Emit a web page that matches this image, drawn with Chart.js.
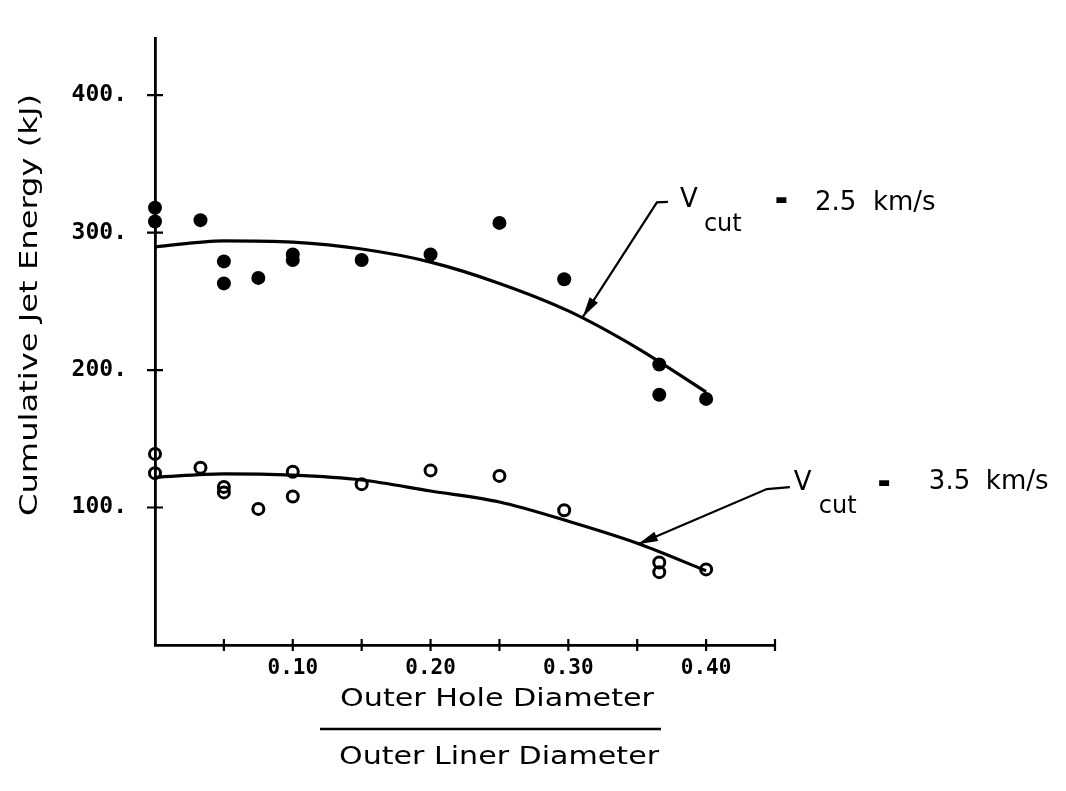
<!DOCTYPE html>
<html>
<head>
<meta charset="utf-8">
<script src="https://cdn.jsdelivr.net/npm/chart.js@4.4.1/dist/chart.umd.min.js"></script>
<style>
  html, body { margin: 0; padding: 0; background: #fff; }
  #wrap { width: 1066px; height: 791px; }
</style>
</head>
<body>
<div id="wrap"><canvas id="myChart" width="1066" height="791"></canvas></div>
<script>
// measured points, Vcut = 2.5 km/s (filled)
const hiX = [0, 0, 0.033, 0.05, 0.05, 0.075, 0.10, 0.10, 0.15, 0.20, 0.25, 0.297, 0.366, 0.366, 0.40];
const hiY = [318, 308, 309, 279, 263, 267, 284, 280, 280, 284, 307, 266, 204, 182, 179];
// measured points, Vcut = 3.5 km/s (open)
const loX = [0, 0, 0.033, 0.05, 0.05, 0.075, 0.10, 0.10, 0.15, 0.20, 0.25, 0.297, 0.366, 0.366, 0.40];
const loY = [139, 125, 129, 115, 111, 99, 126, 108, 117, 127, 123, 98, 60, 53, 55];
// fitted curves
const fitX = [0, 0.05, 0.10, 0.15, 0.20, 0.25, 0.30, 0.35, 0.40];
const fitHiY = [289.5, 294, 293, 288, 278.5, 263, 243, 216, 184];
const fitLoY = [122, 124.5, 123.5, 120, 112, 104, 90, 74, 54];

const xTickVals = [0.05, 0.10, 0.15, 0.20, 0.25, 0.30, 0.35, 0.40, 0.45];
const xTickLabels = ['', '0.10', '', '0.20', '', '0.30', '', '0.40', ''];
const yTickVals = [100, 200, 300, 400];
const yTickLabels = ['100.', '200.', '300.', '400.'];

const yTitle = 'Cumulative Jet Energy (kJ)';
const xTitleTop = 'Outer Hole Diameter';
const xTitleBottom = 'Outer Liner Diameter';

const ink = '#000';
const monoFam = '"DejaVu Sans Mono", monospace';

// leader notes: elbow/tip in data units, text pieces offset in px from the elbow
const notes = [
  {elbow: [0.3643, 322], tip: [0.3106, 238.7], tail: [11, -0.5],
   parts: [
     {t: 'V', dx: 23, dy: -2, size: 26},
     {t: 'cut', dx: 47, dy: 22, size: 24},
     {t: '-', dx: 119, dy: -1, size: 26, bold: true},
     {t: '2.5', dx: 158, dy: 1, size: 26},
     {t: 'km/s', dx: 216, dy: 1, size: 26}
   ]},
  {elbow: [0.4441, 113.4], tip: [0.3505, 73.3], tail: [23, -2],
   parts: [
     {t: 'V', dx: 27, dy: -6, size: 26},
     {t: 'cut', dx: 52, dy: 18, size: 24},
     {t: '-', dx: 112, dy: -5, size: 26, bold: true},
     {t: '3.5', dx: 162, dy: -7, size: 26},
     {t: 'km/s', dx: 219, dy: -7, size: 26}
   ]}
];

function toPts(xs, ys) {
  return xs.map((v, i) => ({x: v, y: ys[i]}));
}

// draw text stretched to a given width (plotter lettering is wide)
function wideText(ctx, str, cx, cy, width, size, angle) {
  ctx.save();
  ctx.font = size + 'px "DejaVu Sans", sans-serif';
  ctx.textAlign = 'center';
  ctx.textBaseline = 'middle';
  const w0 = ctx.measureText(str).width;
  ctx.translate(cx, cy);
  if (angle) ctx.rotate(angle);
  ctx.scale(width / w0, 1);
  ctx.fillText(str, 0, 0);
  ctx.restore();
}

const decor = {
  id: 'decor',
  afterDraw(chart) {
    const {ctx, chartArea: a} = chart;
    const x = chart.scales.x, y = chart.scales.y;
    ctx.save();
    ctx.strokeStyle = ink;
    ctx.fillStyle = ink;
    ctx.lineWidth = 2.2;

    // tick marks cross the axes
    ctx.beginPath();
    xTickVals.forEach(v => {
      const px = x.getPixelForValue(v);
      ctx.moveTo(px, a.bottom - 6);
      ctx.lineTo(px, a.bottom + 6);
    });
    yTickVals.forEach(v => {
      const py = y.getPixelForValue(v);
      ctx.moveTo(a.left - 8, py);
      ctx.lineTo(a.left + 8, py);
    });
    ctx.stroke();

    // axis titles
    wideText(ctx, yTitle, 30, 305, 422, 25, -Math.PI / 2);
    wideText(ctx, xTitleTop, 497, 699, 314, 25);
    ctx.lineWidth = 2.5;
    ctx.beginPath();
    ctx.moveTo(320, 729);
    ctx.lineTo(661, 729);
    ctx.stroke();
    wideText(ctx, xTitleBottom, 499, 757, 320, 25);

    // leader lines and labels
    notes.forEach(n => {
      const ex = x.getPixelForValue(n.elbow[0]), ey = y.getPixelForValue(n.elbow[1]);
      const tx = x.getPixelForValue(n.tip[0]), ty = y.getPixelForValue(n.tip[1]);
      ctx.lineWidth = 2.2;
      ctx.beginPath();
      ctx.moveTo(ex + n.tail[0], ey + n.tail[1]);
      ctx.lineTo(ex, ey);
      ctx.lineTo(tx, ty);
      ctx.stroke();
      const ang = Math.atan2(ty - ey, tx - ex);
      const L = 20, W = 5;
      const bx = tx - L * Math.cos(ang), by = ty - L * Math.sin(ang);
      ctx.beginPath();
      ctx.moveTo(tx, ty);
      ctx.lineTo(bx - W * Math.sin(ang), by + W * Math.cos(ang));
      ctx.lineTo(bx + W * Math.sin(ang), by - W * Math.cos(ang));
      ctx.closePath();
      ctx.fill();

      ctx.textAlign = 'left';
      ctx.textBaseline = 'middle';
      n.parts.forEach(p => {
        ctx.font = (p.bold ? 'bold ' : '') + p.size + 'px "DejaVu Sans", sans-serif';
        ctx.fillText(p.t, ex + p.dx, ey + p.dy);
        if (p.bold) {
          ctx.lineWidth = 2;
          ctx.strokeText(p.t, ex + p.dx, ey + p.dy);
        }
      });
    });
    ctx.restore();
  }
};

const ctx = document.getElementById('myChart');

new Chart(ctx, {
  type: 'scatter',
  data: {
    datasets: [
      {
        label: 'Vcut = 2.5 km/s fit',
        data: toPts(fitX, fitHiY),
        showLine: true,
        pointRadius: 0,
        borderColor: ink,
        borderWidth: 3.2,
        cubicInterpolationMode: 'monotone',
        clip: false
      },
      {
        label: 'Vcut = 3.5 km/s fit',
        data: toPts(fitX, fitLoY),
        showLine: true,
        pointRadius: 0,
        borderColor: ink,
        borderWidth: 3.2,
        cubicInterpolationMode: 'monotone',
        clip: false
      },
      {
        label: 'Vcut = 2.5 km/s',
        data: toPts(hiX, hiY),
        pointRadius: 7,
        pointBackgroundColor: ink,
        pointBorderWidth: 0,
        clip: false
      },
      {
        label: 'Vcut = 3.5 km/s',
        data: toPts(loX, loY),
        pointRadius: 5.5,
        pointBackgroundColor: 'rgba(0,0,0,0)',
        pointBorderColor: ink,
        pointBorderWidth: 3,
        clip: false
      }
    ]
  },
  options: {
    responsive: false,
    animation: false,
    events: [],
    layout: {padding: {top: 38, right: 291, bottom: 0, left: 0}},
    plugins: {
      legend: {display: false},
      tooltip: {enabled: false}
    },
    scales: {
      x: {
        type: 'linear',
        min: 0,
        max: 0.45,
        afterBuildTicks: s => { s.ticks = xTickVals.map(v => ({value: v})); },
        afterFit: s => { s.height = 146; },
        ticks: {
          callback: (v, i) => xTickLabels[i],
          font: {family: monoFam, size: 21, weight: 'bold'},
          color: ink,
          padding: 3,
          maxRotation: 0,
          autoSkip: false
        },
        grid: {display: false},
        border: {display: true, color: ink, width: 2.8}
      },
      y: {
        min: 0,
        max: 441.5,
        afterBuildTicks: s => { s.ticks = yTickVals.map(v => ({value: v})); },
        afterFit: s => { s.width = 155; },
        ticks: {
          callback: (v, i) => yTickLabels[i],
          font: {family: monoFam, size: 23, weight: 'bold'},
          color: ink,
          padding: 20,
          autoSkip: false
        },
        grid: {display: false},
        border: {display: true, color: ink, width: 2.8}
      }
    }
  },
  plugins: [decor]
});
</script>
</body>
</html>
